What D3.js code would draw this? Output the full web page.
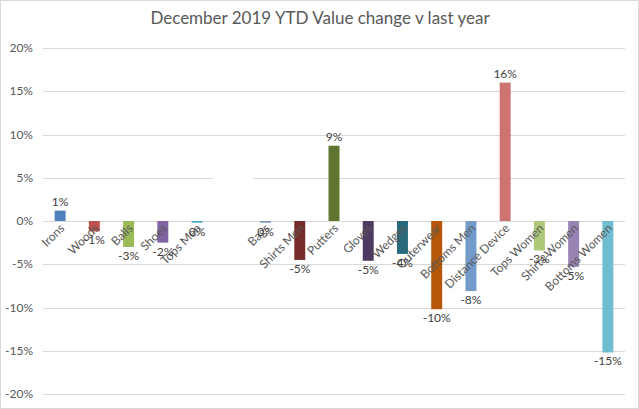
<!DOCTYPE html>
<html>
<head>
<meta charset="utf-8">
<script src="https://cdn.jsdelivr.net/npm/d3@7"></script>
<style>
  body { margin: 0; background: #fff; }
  svg { display: block; font-family: Lato, "Open Sans", sans-serif; }
</style>
</head>
<body>
<svg id="chart" width="639" height="409"></svg>
<script>
const categories = ['Irons', 'Woods', 'Balls', 'Shoes', 'Tops Men', '', 'Bags', 'Shirts Men', 'Putters', 'Gloves',
    'Wedges', 'Outerwear', 'Bottoms Men', 'Distance Device', 'Tops Women', 'Shirts Women', 'Bottoms Women'];
const values = [1.2, -1.2, -3.0, -2.5, -0.2, null, -0.2, -4.5, 8.7, -4.6, -3.8, -10.2, -8.1, 16.0, -3.4, -5.3, -15.2];
const barLabels = ['1%', '-1%', '-3%', '-2%', '0%', '', '0%', '-5%', '9%', '-5%', '-4%', '-10%', '-8%', '16%', '-3%', '-5%', '-15%'];
const colors = ['#4f81bd', '#c0504d', '#9bbb59', '#8064a2', '#4bacc6', '#f79646', '#7f9bc4', '#772c2a', '#5f7530',
    '#4d3b62', '#276a7c', '#b65708', '#729aca', '#cd7371', '#afc97a', '#9983b5', '#6fbdd1'];
const yTicks = [20, 15, 10, 5, 0, -5, -10, -15, -20];

const svg = d3.select('#chart');
const width = 639, height = 409;

svg.append('rect').attr('x', 0.5).attr('y', 0.5).attr('width', width - 1).attr('height', height - 1)
    .attr('fill', '#fff').attr('stroke', '#d9d9d9');

svg.append('text').attr('x', 320).attr('y', 24).attr('text-anchor', 'middle')
    .attr('font-size', 17).attr('fill', '#595959').text('December 2019 YTD Value change v last year');

const xs = d3.scaleBand().domain(d3.range(categories.length)).range([43, 625]).paddingInner(0.68).paddingOuter(0.34);
const ys = d3.scaleLinear().domain([-20, 20]).range([394, 48]);

// gridlines + y labels
const grid = svg.append('g');
grid.selectAll('line').data(yTicks).enter().append('line')
    .attr('x1', 43).attr('x2', 625)
    .attr('y1', d => Math.round(ys(d)) + 0.5).attr('y2', d => Math.round(ys(d)) + 0.5)
    .attr('stroke', '#d9d9d9').attr('stroke-width', 1);
grid.selectAll('text').data(yTicks).enter().append('text')
    .attr('x', 33).attr('y', d => ys(d) + 4).attr('text-anchor', 'end')
    .attr('font-size', 12).attr('fill', '#595959').text(d => d + '%');

// blank label box hiding part of the 5% line
svg.append('rect').attr('x', 213).attr('y', ys(5) - 3).attr('width', 40).attr('height', 6).attr('fill', '#fff');

const bars = categories.map((c, i) => ({ c, i, v: values[i], label: barLabels[i], color: colors[i] }))
    .filter(d => d.v !== null);

svg.append('g').selectAll('rect').data(bars).enter().append('rect')
    .attr('x', d => xs(d.i))
    .attr('width', xs.bandwidth())
    .attr('y', d => ys(Math.max(0, d.v)))
    .attr('height', d => Math.abs(ys(d.v) - ys(0)))
    .attr('fill', d => d.color);

// category labels at the zero line
svg.append('g').selectAll('text').data(bars).enter().append('text')
    .attr('transform', d => `translate(${xs(d.i) + xs.bandwidth() / 2 + 5},${ys(0) + 8}) rotate(-45)`)
    .attr('text-anchor', 'end').attr('font-size', 12).attr('fill', '#595959')
    .text(d => d.c);

// data labels
svg.append('g').selectAll('text').data(bars).enter().append('text')
    .attr('x', d => xs(d.i) + xs.bandwidth() / 2)
    .attr('y', d => d.v >= 0 ? ys(d.v) - 5 : ys(d.v) + 13)
    .attr('text-anchor', 'middle').attr('font-size', 12).attr('fill', '#404040')
    .text(d => d.label);
</script>
</body>
</html>
